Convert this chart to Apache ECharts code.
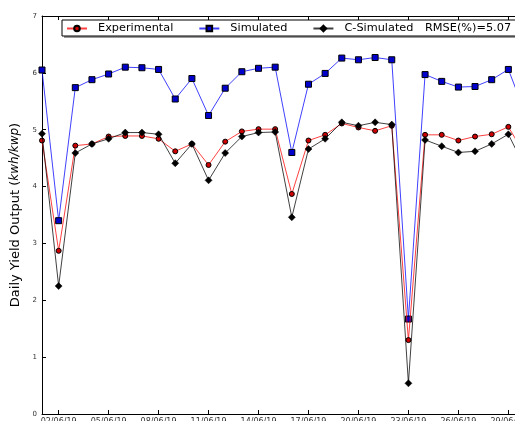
<!DOCTYPE html>
<html>
<head>
<meta charset="utf-8">
<style>html,body{margin:0;padding:0;background:#fff}#c{width:515px;height:421px}</style>
<script src="https://cdn.jsdelivr.net/npm/echarts@6/dist/echarts.min.js"></script>
</head>
<body>
<div id="c"></div>
<script>
var dates = ["01/06/19","02/06/19","03/06/19","04/06/19","05/06/19","06/06/19","07/06/19","08/06/19","09/06/19","10/06/19",
             "11/06/19","12/06/19","13/06/19","14/06/19","15/06/19","16/06/19","17/06/19","18/06/19","19/06/19","20/06/19",
             "21/06/19","22/06/19","23/06/19","24/06/19","25/06/19","26/06/19","27/06/19","28/06/19","29/06/19","30/06/19"];
var experimental = [4.81,2.87,4.72,4.75,4.88,4.89,4.89,4.84,4.62,4.75,4.38,4.79,4.97,5.01,5.01,3.87,4.81,4.91,5.11,5.04,4.98,5.07,1.30,4.91,4.91,4.81,4.88,4.92,5.05,4.56];
var simulated = [6.05,3.40,5.74,5.88,5.98,6.10,6.09,6.06,5.54,5.90,5.25,5.73,6.02,6.08,6.10,4.60,5.80,5.99,6.26,6.23,6.27,6.23,1.67,5.97,5.85,5.75,5.76,5.88,6.06,5.30];
var cSimulated = [4.93,2.25,4.59,4.75,4.84,4.95,4.95,4.92,4.41,4.75,4.11,4.59,4.88,4.95,4.96,3.46,4.66,4.84,5.13,5.07,5.13,5.09,0.54,4.82,4.71,4.60,4.62,4.75,4.92,4.33];
var yTicks = [0,1,2,3,4,5,6,7];
var rmseText = "RMSE(%)=5.07";

var chart = echarts.init(document.getElementById('c'), null, {renderer:'canvas'});
var tickShow = function(i){ return i % 3 === 1; };
var font = "DejaVu Sans";
chart.setOption({
  backgroundColor:'#fff',
  animation:false,
  grid:{left:42, top:16, width:483, height:398, outerBoundsMode:'none', containLabel:false},
  graphic:[
    {type:'rect', shape:{x:64, y:22, width:470, height:16}, style:{fill:'#999'}, z:90},
    {type:'rect', shape:{x:62, y:20, width:470, height:16}, style:{fill:'#fff', stroke:'#000', lineWidth:1}, z:91},
    {type:'text', x:425, y:28, style:{text:rmseText, font:'11.3px "DejaVu Sans"', fill:'#000', textVerticalAlign:'middle'}, z:95}
  ],
  legend:{
    left:66, top:23, z:95, itemWidth:20, itemHeight:7, itemGap:25,
    padding:0,
    textStyle:{fontFamily:font, fontSize:11.3, color:'#000', padding:[0,0,0,6]},
    data:['Experimental','Simulated','C-Simulated']
  },
  xAxis:[{
    type:'category', data:dates, boundaryGap:false,
    axisLine:{lineStyle:{color:'#000', width:1}},
    axisTick:{inside:true, length:4, interval:function(i){return tickShow(i);}, lineStyle:{color:'#000'}},
    axisLabel:{interval:function(i){return tickShow(i);}, fontFamily:font, fontSize:8, color:'#333', margin:4},
    splitLine:{show:false}
  },{
    type:'category', data:dates, boundaryGap:false, position:'top',
    axisLine:{lineStyle:{color:'#000', width:1}},
    axisTick:{inside:true, length:4, interval:function(i){return tickShow(i);}, lineStyle:{color:'#000'}},
    axisLabel:{show:false}, splitLine:{show:false}
  }],
  yAxis:{
    type:'value', min:yTicks[0], max:yTicks[yTicks.length-1], interval:1,
    axisLine:{show:true, lineStyle:{color:'#000', width:1}},
    axisTick:{show:true, inside:true, length:4, lineStyle:{color:'#000'}},
    axisLabel:{fontFamily:font, fontSize:7, color:'#333', margin:5},
    splitLine:{show:false},
    name:'Daily Yield Output ({i|kwh/kwp})', nameLocation:'middle', nameGap:11, nameRotate:90,
    nameTextStyle:{fontFamily:font, fontSize:13, color:'#000',
      rich:{i:{fontFamily:font, fontStyle:'italic', fontSize:12, color:'#000'}}}
  },
  series:[
    {name:'Simulated', type:'line', data:simulated, symbol:'rect', symbolSize:6,
     lineStyle:{color:'#0000ff', width:1, opacity:0.75},
     itemStyle:{color:'#0000cc', borderColor:'#000', borderWidth:1}, z:2},
    {name:'Experimental', type:'line', data:experimental, symbol:'circle', symbolSize:5,
     lineStyle:{color:'#ff0000', width:1, opacity:0.75},
     itemStyle:{color:'#cc0000', borderColor:'#000', borderWidth:1}, z:3},
    {name:'C-Simulated', type:'line', data:cSimulated, symbol:'diamond', symbolSize:7,
     lineStyle:{color:'#000', width:1, opacity:0.75},
     itemStyle:{color:'#000', borderColor:'#000', borderWidth:0.5}, z:4}
  ]
});
</script>
</body>
</html>
